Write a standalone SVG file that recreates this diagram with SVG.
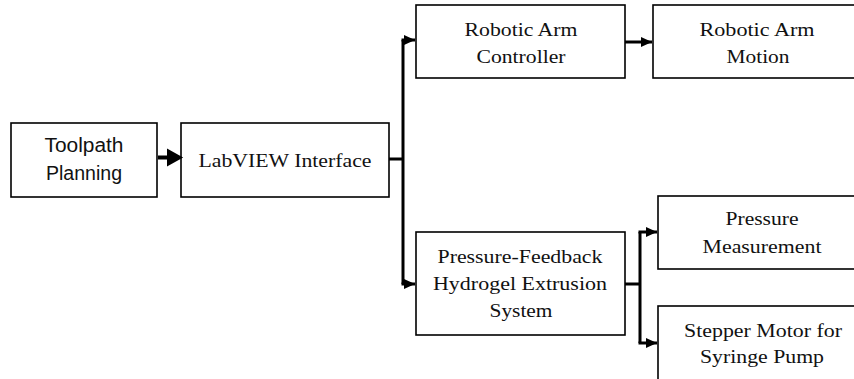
<svg xmlns="http://www.w3.org/2000/svg" width="854" height="379" viewBox="0 0 854 379">
<style>
.box{fill:#fff;stroke:#000;stroke-width:1.6}
.t{font-family:"Liberation Serif","Times New Roman","DejaVu Serif",serif;font-size:19px;fill:#111;text-anchor:middle}
.s{font-family:"Liberation Sans",Arial,sans-serif;font-size:20px;fill:#111;text-anchor:middle}
.c{fill:none;stroke:#000;stroke-width:3}
</style>
<defs>
<marker id="ah" markerWidth="12" markerHeight="12" refX="11" refY="5" orient="auto" markerUnits="userSpaceOnUse">
<path d="M0,0 L11,5 L0,10 Z" fill="#000"/>
</marker>
</defs>
<g id="toolpath"><rect class="box" x="11" y="123" width="146" height="74"/>
<text class="s" x="84" y="152" textLength="79" lengthAdjust="spacingAndGlyphs">Toolpath</text><text class="s" x="84" y="180" textLength="76" lengthAdjust="spacingAndGlyphs">Planning</text></g>
<g id="labview"><rect class="box" x="181" y="123" width="208" height="74"/>
<text class="t" x="285" y="167" textLength="173" lengthAdjust="spacingAndGlyphs">LabVIEW Interface</text></g>
<g id="controller"><rect class="box" x="416" y="5" width="209" height="73"/>
<text class="t" x="521" y="36" textLength="113" lengthAdjust="spacingAndGlyphs">Robotic Arm</text><text class="t" x="521" y="63" textLength="89" lengthAdjust="spacingAndGlyphs">Controller</text></g>
<g id="motion"><rect class="box" x="653" y="5" width="210" height="73"/>
<text class="t" x="757" y="36" textLength="115" lengthAdjust="spacingAndGlyphs">Robotic Arm</text><text class="t" x="758" y="63" textLength="63" lengthAdjust="spacingAndGlyphs">Motion</text></g>
<g id="extrusion"><rect class="box" x="416" y="232" width="209" height="103"/>
<text class="t" x="520" y="263" textLength="165" lengthAdjust="spacingAndGlyphs">Pressure-Feedback</text><text class="t" x="520" y="290" textLength="174" lengthAdjust="spacingAndGlyphs">Hydrogel Extrusion</text><text class="t" x="521" y="317" textLength="63" lengthAdjust="spacingAndGlyphs">System</text></g>
<g id="pressure"><rect class="box" x="658" y="196" width="205" height="73"/>
<text class="t" x="762" y="225" textLength="73" lengthAdjust="spacingAndGlyphs">Pressure</text><text class="t" x="762" y="253" textLength="119" lengthAdjust="spacingAndGlyphs">Measurement</text></g>
<g id="stepper"><rect class="box" x="658" y="306" width="205" height="80"/>
<text class="t" x="763" y="337" textLength="158" lengthAdjust="spacingAndGlyphs">Stepper Motor for</text><text class="t" x="762" y="363" textLength="124" lengthAdjust="spacingAndGlyphs">Syringe Pump</text></g>
<g id="connectors">
<path d="M158,157.5 H169 V152 L179,157.5 L169,163 V157.5 Z" fill="#000" stroke="#000" stroke-width="4" stroke-linejoin="miter"/>
<path class="c" d="M389,159 H403"/>
<path class="c" d="M403,284 V40"/>
<path class="c" d="M401.5,40 H415" marker-end="url(#ah)"/>
<path class="c" d="M401.5,284 H415" marker-end="url(#ah)"/>
<path class="c" d="M625,42 H652" marker-end="url(#ah)"/>
<path class="c" d="M625,284 H640 M640,232 V343"/>
<path class="c" d="M638.5,232 H657" marker-end="url(#ah)"/>
<path class="c" d="M638.5,343 H657" marker-end="url(#ah)"/>
</g>
</svg>
